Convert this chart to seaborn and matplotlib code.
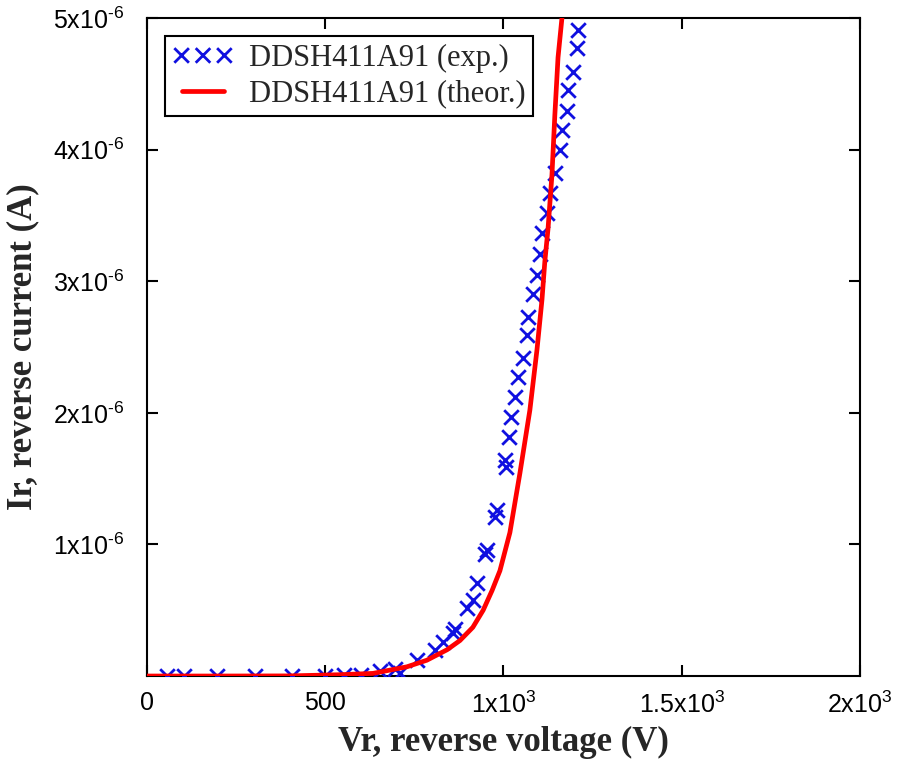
import numpy as np
import pandas as pd
import matplotlib
matplotlib.use("Agg")
import matplotlib.pyplot as plt
import seaborn as sns

# --- data (current in microamps) ---
exp_voltage = [56, 104, 196, 303, 407, 499, 553, 600, 654, 696, 710, 757, 808, 830,
               858, 864, 898, 914, 926, 948, 954, 976, 982, 1004, 1007, 1015, 1020,
               1032, 1041, 1055, 1066, 1069, 1083, 1094, 1102, 1108, 1122, 1130, 1144,
               1158, 1164, 1178, 1181, 1195, 1206, 1209]
exp_current_ua = [0.0, 0.0, 0.0, 0.0, 0.0, 0.0, 0.005, 0.01, 0.04, 0.05, 0.02, 0.12,
                  0.20, 0.26, 0.33, 0.36, 0.52, 0.58, 0.71, 0.93, 0.96, 1.21, 1.26, 1.64,
                  1.59, 1.82, 1.97, 2.12, 2.27, 2.42, 2.59, 2.73, 2.90, 3.05, 3.21, 3.37,
                  3.52, 3.67, 3.82, 4.00, 4.15, 4.29, 4.45, 4.59, 4.77, 4.91]

theor_voltage = [0, 200, 400, 541, 634, 729, 785, 842, 878, 914, 943, 968, 990, 1018,
                 1046, 1074, 1094, 1108, 1116, 1125, 1136, 1144, 1153, 1164, 1172]
theor_current_ua = [0.0, 0.0, 0.001, 0.01, 0.02, 0.07, 0.12, 0.20, 0.27, 0.37, 0.50, 0.65,
                    0.80, 1.09, 1.54, 2.02, 2.48, 2.86, 3.15, 3.40, 3.81, 4.26, 4.70, 5.0, 5.5]

x_ticks = [0, 500, 1000, 1500, 2000]
x_tick_labels = ["0", "500", r"$\mathregular{1x10^{3}}$", r"$\mathregular{1.5x10^{3}}$",
                 r"$\mathregular{2x10^{3}}$"]
y_ticks = [1e-6, 2e-6, 3e-6, 4e-6, 5e-6]
y_tick_labels = [r"$\mathregular{%dx10^{\text{-}6}}$" % i for i in range(1, 6)]

exp_df = pd.DataFrame({"V": exp_voltage, "I": np.array(exp_current_ua) * 1e-6})
theor_df = pd.DataFrame({"V": theor_voltage, "I": np.array(theor_current_ua) * 1e-6})

sns.set_style("ticks")
plt.rcParams["font.family"] = ["Liberation Sans", "DejaVu Sans"]
plt.rcParams["mathtext.fontset"] = "custom"
plt.rcParams["mathtext.rm"] = "Liberation Sans"

fig = plt.figure(figsize=(9.04, 7.6), dpi=100)
ax = fig.add_axes([0.1626, 0.1105, 0.7887, 0.8658])

sns.scatterplot(data=exp_df, x="V", y="I", ax=ax, marker="x", s=110, color="#1010e0",
                linewidth=2, label="DDSH411A91 (exp.)", zorder=3)
sns.lineplot(data=theor_df, x="V", y="I", ax=ax, color="#ff0000", linewidth=3.4,
             label="DDSH411A91 (theor.)", zorder=4, sort=False)

ax.set_xlim(0, 2000)
ax.set_ylim(0, 5e-6)
ax.set_xticks(x_ticks)
ax.set_xticklabels(x_tick_labels)
ax.set_yticks(y_ticks)
ax.set_yticklabels(y_tick_labels)
ax.tick_params(direction="in", length=8, width=1.5, top=True, right=True,
               labelsize=18, colors="black")
ax.tick_params(axis="x", pad=11)
ax.tick_params(axis="y", pad=16)
for s in ax.spines.values():
    s.set_linewidth(1.5)
    s.set_color("black")

ax.set_xlabel("Vr, reverse voltage (V)", family="Liberation Serif", fontweight="bold",
              fontsize=25, labelpad=6)
ax.set_ylabel("Ir, reverse current (A)", family="Liberation Serif", fontweight="bold",
              fontsize=25, labelpad=10)

leg = ax.legend(loc="upper left", bbox_to_anchor=(0.025, 0.972), numpoints=3,
                scatterpoints=3, scatteryoffsets=[0.5], fancybox=False, framealpha=1,
                edgecolor="black", prop={"family": "Liberation Serif", "size": 22},
                handlelength=2.0, handletextpad=0.5, borderpad=0.25, labelspacing=0.2,
                borderaxespad=0)
leg.get_frame().set_linewidth(1.5)

fig.savefig("out.png", dpi=100)
